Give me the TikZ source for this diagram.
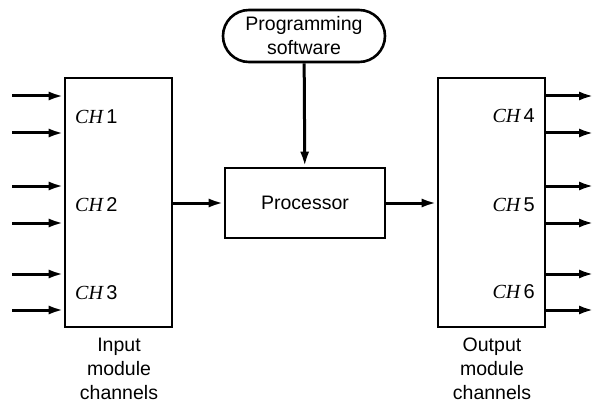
\documentclass[tikz,border=0pt]{standalone}
\usepackage{fontspec}
\setmainfont{Liberation Sans}
\newfontfamily\chf{Liberation Serif}
\usetikzlibrary{arrows.meta}
\begin{document}
\begin{tikzpicture}[x=1pt,y=-1pt,
  box/.style={draw,line width=2.6pt,inner sep=0pt},
  arr/.style={line width=3pt,-{Latex[length=15pt,width=9pt]}},
  lbl/.style={font=\fontsize{19.5}{24}\selectfont,inner sep=0pt},
  chl/.style={font=\fontsize{20}{24}\selectfont,inner sep=0pt}]
\useasboundingbox (0,0) rectangle (598,404);
\node[box,minimum width=107pt,minimum height=249pt] (in) at (118.5,202.5) {};
\node[box,minimum width=107pt,minimum height=249pt] (out) at (491.5,202.5) {};
\node[box,minimum width=160pt,minimum height=70pt,lbl] (proc) at (305,203) {Processor};
\node[box,minimum width=162pt,minimum height=52pt,rounded corners=26pt,lbl,align=center] (sw) at (304,36) {Programming\\software};
\draw[arr] (sw) -- (proc);
\draw[arr] (in.east |- proc) -- (proc.west);
\draw[arr] (proc.east) -- (out.west |- proc);
\foreach \y [count=\i] in {96,133,186,223,274,310} {
  \coordinate (ia\i) at (12,\y);
  \coordinate (ob\i) at (594,\y);
  \draw[arr] (ia\i) -- (ia\i -| in.west);
  \draw[arr] (ob\i -| out.east) -- (ob\i);
}
\node[chl,anchor=west] (c1) at (75,117) {{\chf\itshape CH}\,1};
\node[chl,anchor=west] (c2) at (75,205) {{\chf\itshape CH}\,2};
\node[chl,anchor=west] (c3) at (75,293) {{\chf\itshape CH}\,3};
\node[chl,anchor=east] (c4) at (535,116) {{\chf\itshape CH}\,4};
\node[chl,anchor=east] (c5) at (535,205) {{\chf\itshape CH}\,5};
\node[chl,anchor=east] (c6) at (535,292) {{\chf\itshape CH}\,6};
\node[lbl,align=center] (il) at (119,369) {Input\\module\\channels};
\node[lbl,align=center] (ol) at (492,369) {Output\\module\\channels};
\end{tikzpicture}
\end{document}
